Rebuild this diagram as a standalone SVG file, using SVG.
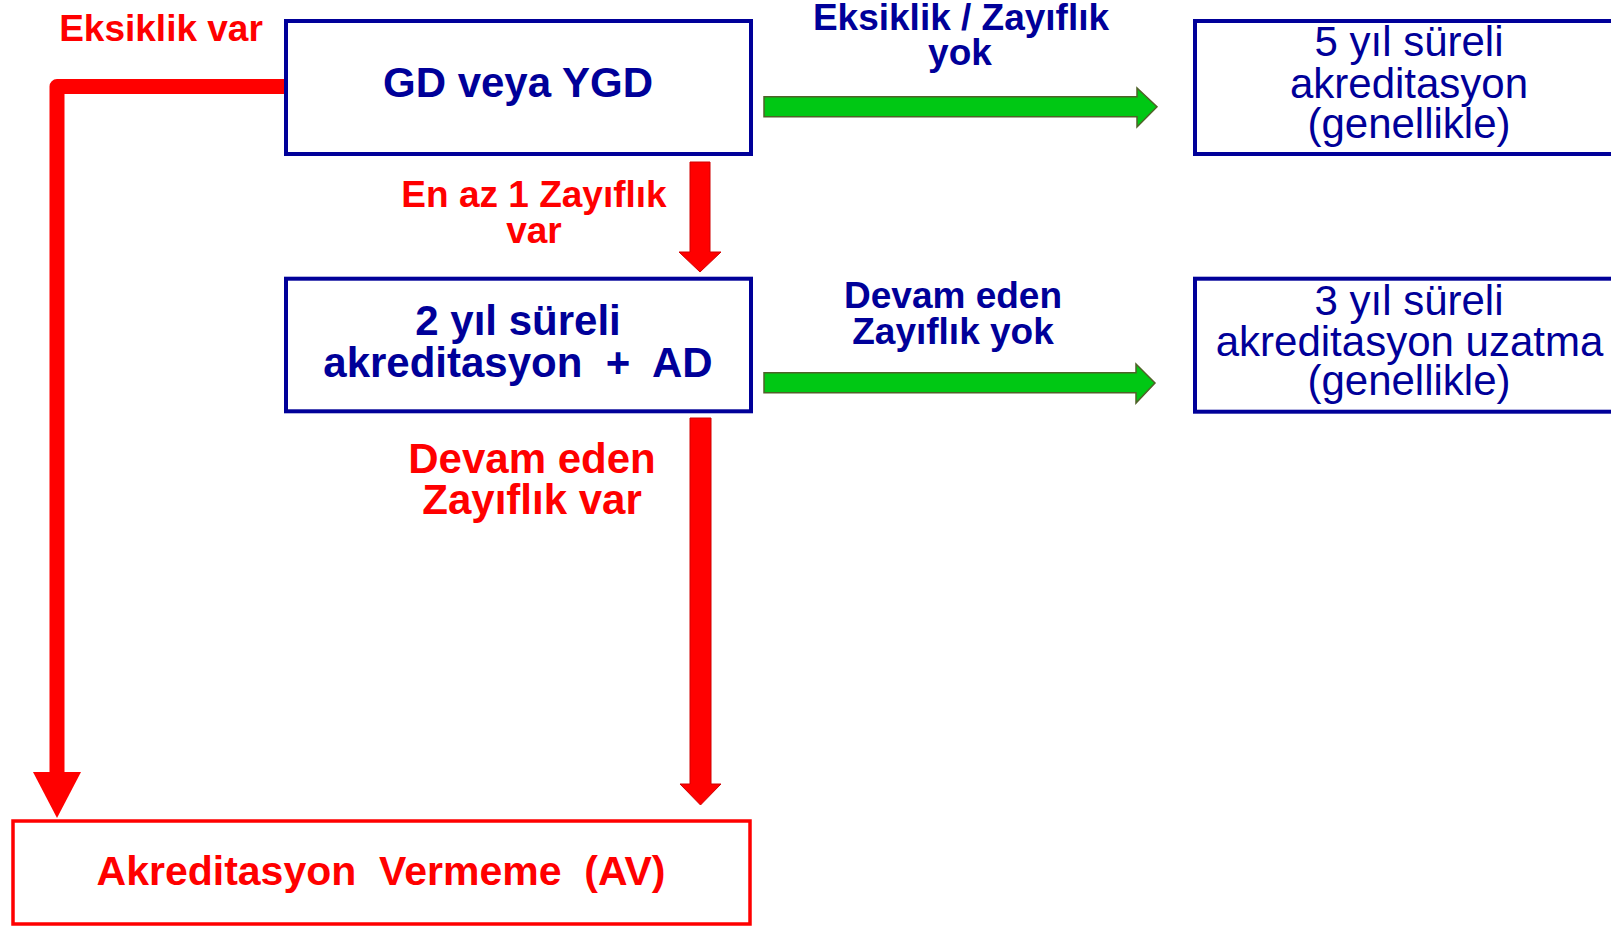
<svg xmlns="http://www.w3.org/2000/svg" width="1611" height="928" viewBox="0 0 1611 928">
<style>
.box{fill:#fff;stroke:#000099;stroke-width:4}
.avbox{fill:#fff;stroke:#ff0000;stroke-width:3.5}
.b{font-family:"Liberation Sans",Arial,sans-serif;font-weight:bold;text-anchor:middle}
.r{font-family:"Liberation Sans",Arial,sans-serif;font-weight:normal;text-anchor:middle}
.navy{fill:#000099}
.red{fill:#ff0000}
.garrow{fill:#00c814;stroke:#4f6228;stroke-width:1.5}
.rarrow{fill:#ff0000;stroke:#d00000;stroke-width:1}
</style>
<rect width="1611" height="928" fill="#fff"/>
<g id="connectors">
  <path d="M 284 86.5 H 57 V 776" fill="none" stroke="#ff0000" stroke-width="15" stroke-linejoin="round"/>
  <polygon points="33,772 81,772 57,818" fill="#ff0000"/>
  <polygon class="rarrow" points="690,162 710,162 710,252 721,252 700,272 679,252 690,252"/>
  <polygon class="rarrow" points="690,418 711,418 711,784 721,784 700.5,805 680,784 690,784"/>
  <polygon class="garrow" points="764,96.7 1137,96.7 1137,88 1157,106.7 1137,127 1137,116.7 764,116.7"/>
  <polygon class="garrow" points="764,372.7 1136,372.7 1136,364 1155,383 1136,403 1136,392.7 764,392.7"/>
</g>
<g id="labels">
  <text class="b red" x="161" y="40.5" font-size="37">Eksiklik var</text>
  <text class="b red" x="534" y="207" font-size="37">En az 1 Zayıflık</text>
  <text class="b red" x="534" y="242.5" font-size="37">var</text>
  <text class="b red" x="532" y="473" font-size="42">Devam eden</text>
  <text class="b red" x="532" y="514" font-size="42">Zayıflık var</text>
  <text class="b navy" x="961" y="30" font-size="37">Eksiklik / Zayıflık</text>
  <text class="b navy" x="960" y="65" font-size="37">yok</text>
  <text class="b navy" x="953" y="308" font-size="37">Devam eden</text>
  <text class="b navy" x="953" y="344" font-size="37">Zayıflık yok</text>
</g>
<g id="node-gd">
  <rect class="box" x="286" y="21" width="465" height="133"/>
  <text class="b navy" x="518" y="97" font-size="42">GD veya YGD</text>
</g>
<g id="node-2yil">
  <rect class="box" x="286" y="278.7" width="465" height="132.6"/>
  <text class="b navy" x="518" y="335" font-size="42">2 yıl süreli</text>
  <text class="b navy" x="518" y="376.7" font-size="42" xml:space="preserve">akreditasyon  +  AD</text>
</g>
<g id="node-5yil">
  <rect class="box" x="1195" y="21" width="430" height="133"/>
  <text class="r navy" x="1409" y="56" font-size="42">5 yıl süreli</text>
  <text class="r navy" x="1409" y="97.5" font-size="42">akreditasyon</text>
  <text class="r navy" x="1409" y="137.5" font-size="42">(genellikle)</text>
</g>
<g id="node-3yil">
  <rect class="box" x="1195" y="278.7" width="430" height="133"/>
  <text class="r navy" x="1409" y="315" font-size="42">3 yıl süreli</text>
  <text class="r navy" x="1409.5" y="356" font-size="42">akreditasyon uzatma</text>
  <text class="r navy" x="1409" y="395" font-size="42">(genellikle)</text>
</g>
<g id="node-av">
  <rect class="avbox" x="13" y="821" width="737" height="103"/>
  <text class="b red" x="381" y="885" font-size="41" xml:space="preserve">Akreditasyon  Vermeme  (AV)</text>
</g>
</svg>
